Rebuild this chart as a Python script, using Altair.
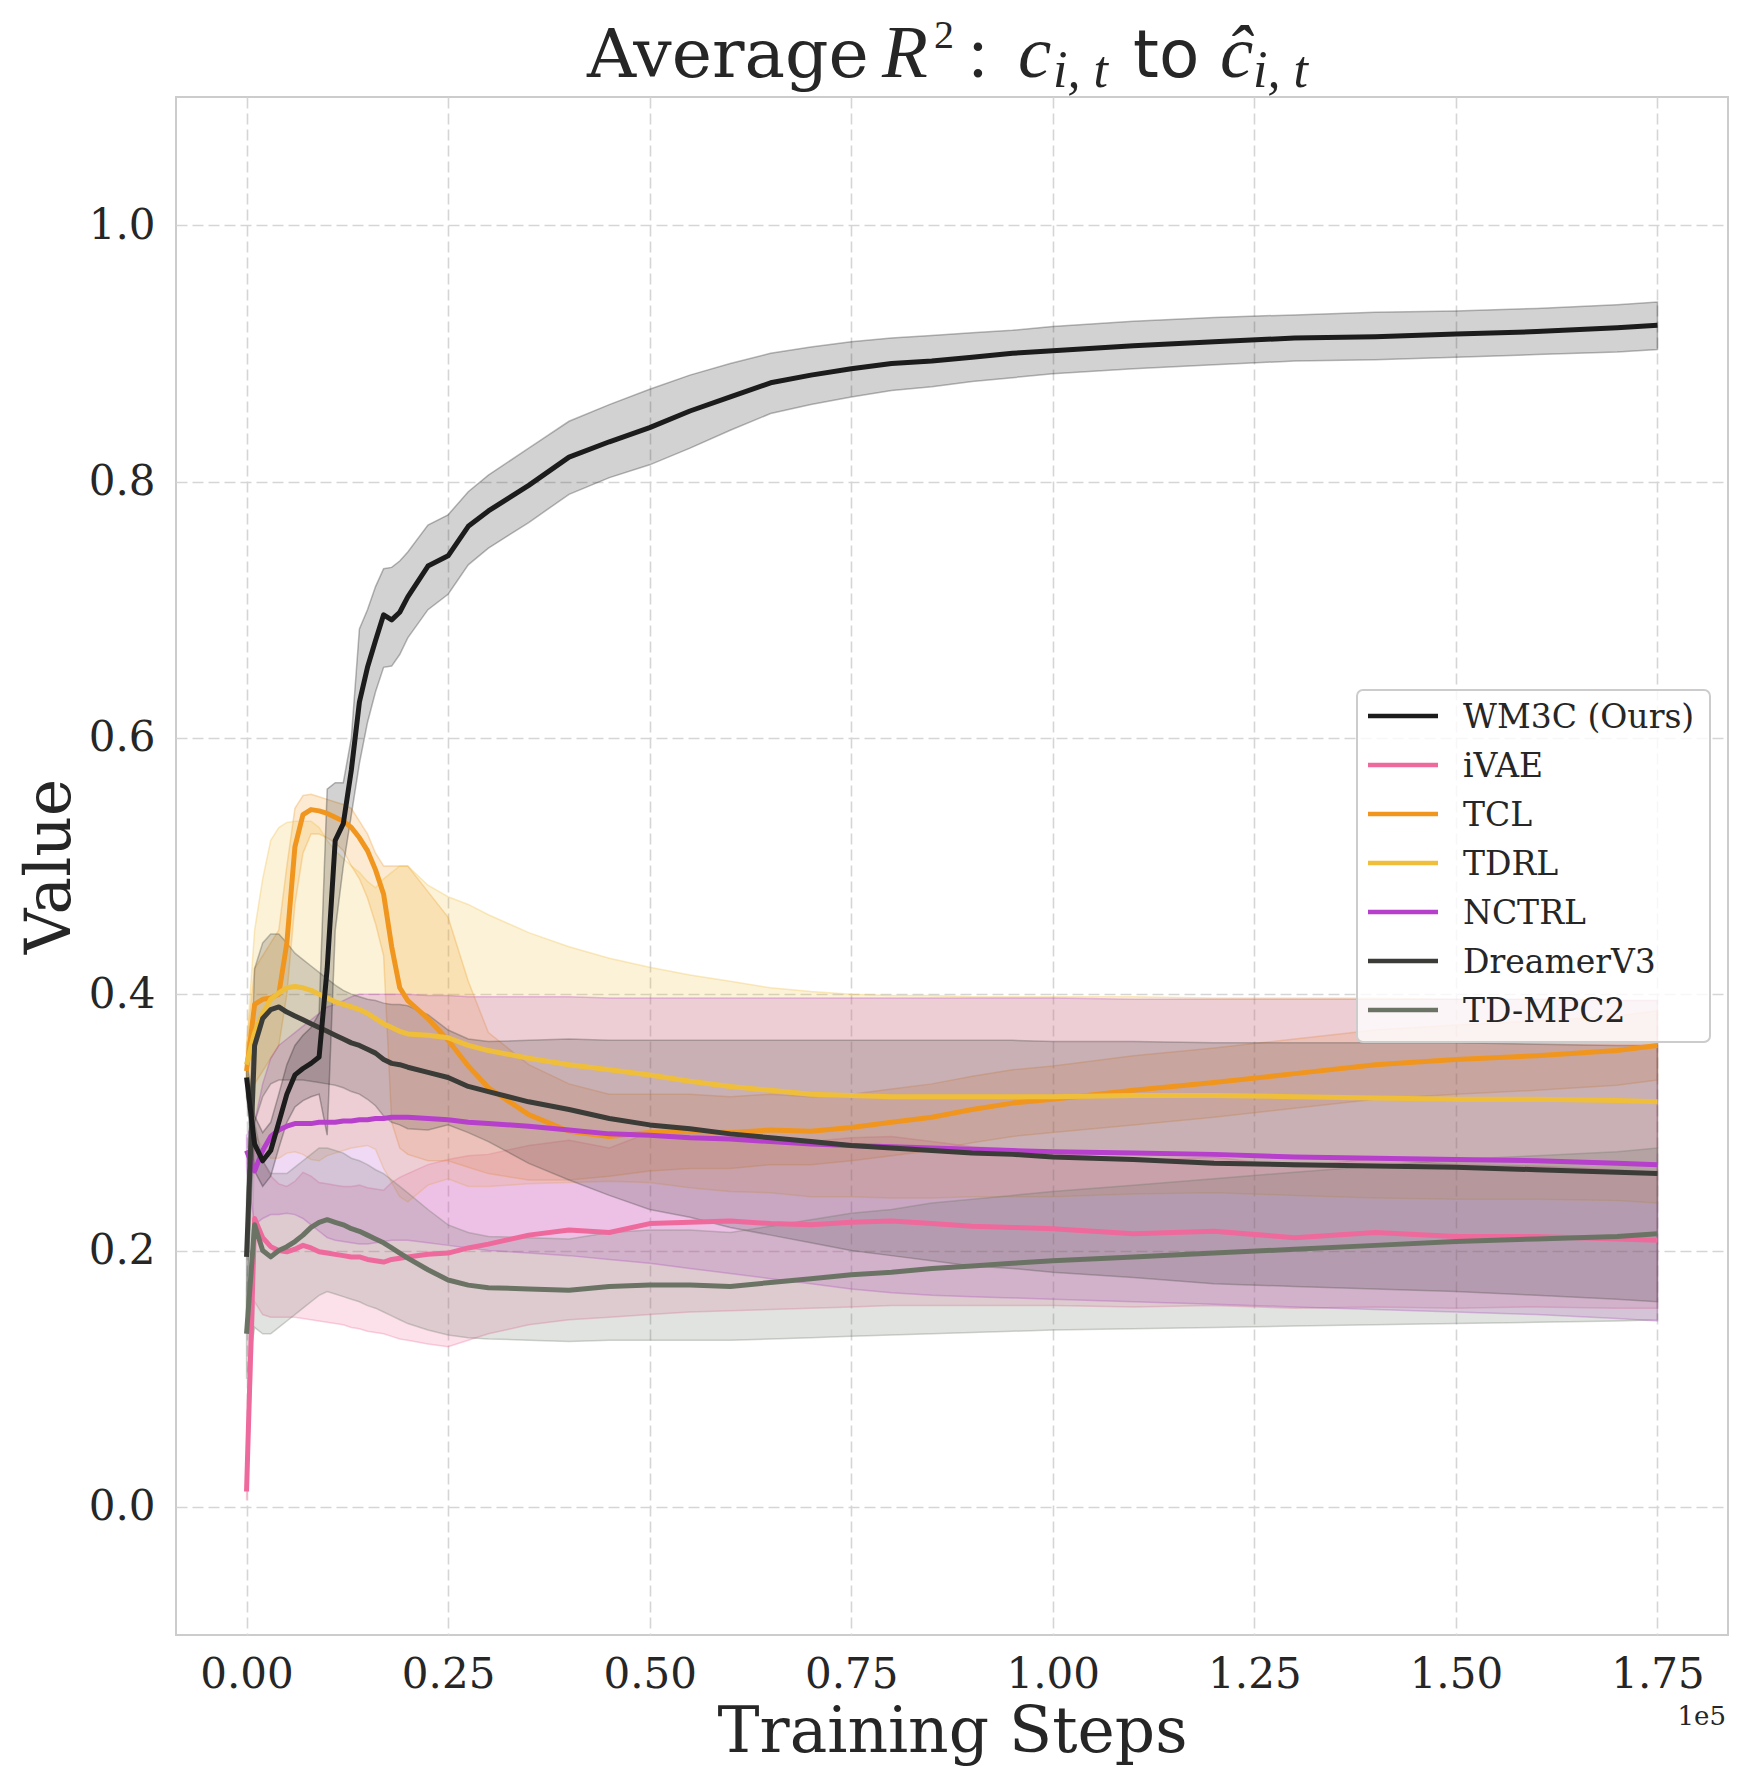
import altair as alt
import pandas as pd

STEPS = [0, 1000, 2000, 3000, 4000, 5000, 6000, 7000, 8000, 9000, 10000, 11000, 12000, 13000,
         14000, 15000, 16000, 17000, 18000, 19000, 20000, 22500, 25000, 27500, 30000, 35000,
         40000, 45000, 50000, 55000, 60000, 65000, 70000, 75000, 80000, 85000, 90000, 95000,
         100000, 110000, 120000, 130000, 140000, 150000, 160000, 170000, 175000]

SERIES = ["WM3C (Ours)", "iVAE", "TCL", "TDRL", "NCTRL", "DreamerV3", "TD-MPC2"]
COLORS = ["#1c1c1c", "#ee6a9c", "#f0961f", "#efbe3a", "#b63fcc", "#3b3b37", "#6b7464"]
DRAW_ORDER = ["iVAE", "TCL", "TDRL", "NCTRL", "DreamerV3", "TD-MPC2", "WM3C (Ours)"]

WM3C_MEAN = [0.335, 0.283, 0.270, 0.278, 0.300, 0.322, 0.337, 0.342, 0.346, 0.351, 0.420, 0.520, 0.533, 0.575,
             0.628, 0.655, 0.676, 0.696, 0.692, 0.698, 0.710, 0.734, 0.742, 0.765, 0.777, 0.797, 0.819, 0.831,
             0.842, 0.855, 0.866, 0.877, 0.883, 0.888, 0.892, 0.894, 0.897, 0.900, 0.902, 0.906, 0.909, 0.912,
             0.913, 0.915, 0.917, 0.920, 0.922]
WM3C_LO = [0.320, 0.262, 0.250, 0.258, 0.280, 0.300, 0.312, 0.317, 0.320, 0.322, 0.290, 0.450, 0.500, 0.540,
           0.580, 0.612, 0.636, 0.655, 0.656, 0.665, 0.678, 0.700, 0.712, 0.735, 0.748, 0.768, 0.790, 0.803,
           0.813, 0.826, 0.840, 0.853, 0.860, 0.866, 0.871, 0.874, 0.878, 0.881, 0.884, 0.888, 0.891, 0.894,
           0.895, 0.897, 0.899, 0.901, 0.903]
WM3C_HI = [0.350, 0.305, 0.292, 0.300, 0.322, 0.345, 0.360, 0.368, 0.374, 0.385, 0.560, 0.565, 0.565, 0.600,
           0.685, 0.700, 0.718, 0.732, 0.733, 0.738, 0.745, 0.766, 0.774, 0.792, 0.805, 0.826, 0.847, 0.860,
           0.872, 0.883, 0.892, 0.900, 0.905, 0.909, 0.912, 0.914, 0.916, 0.918, 0.921, 0.925, 0.928, 0.930,
           0.932, 0.933, 0.935, 0.938, 0.940]

IVAE_MEAN = [0.012, 0.225, 0.210, 0.203, 0.200, 0.199, 0.201, 0.204, 0.202, 0.199, 0.198, 0.197, 0.196, 0.195,
             0.195, 0.193, 0.192, 0.191, 0.193, 0.194, 0.195, 0.197, 0.198, 0.202, 0.205, 0.212, 0.216, 0.214,
             0.221, 0.222, 0.223, 0.221, 0.220, 0.222, 0.223, 0.221, 0.219, 0.218, 0.217, 0.213, 0.215, 0.210,
             0.214, 0.211, 0.211, 0.209, 0.208]
IVAE_LO = [0.005, 0.160, 0.150, 0.148, 0.148, 0.148, 0.148, 0.147, 0.146, 0.145, 0.144, 0.143, 0.142, 0.140,
           0.139, 0.137, 0.136, 0.135, 0.133, 0.131, 0.130, 0.127, 0.125, 0.130, 0.135, 0.142, 0.146, 0.148,
           0.150, 0.152, 0.153, 0.154, 0.155, 0.156, 0.157, 0.157, 0.157, 0.157, 0.157, 0.156, 0.157, 0.155,
           0.156, 0.155, 0.156, 0.155, 0.155]
IVAE_HI = [0.020, 0.290, 0.270, 0.258, 0.252, 0.250, 0.254, 0.261, 0.258, 0.253, 0.252, 0.251, 0.250, 0.250,
           0.251, 0.249, 0.248, 0.247, 0.253, 0.257, 0.260, 0.267, 0.271, 0.274, 0.275, 0.282, 0.286, 0.280,
           0.292, 0.292, 0.293, 0.288, 0.285, 0.288, 0.289, 0.285, 0.281, 0.279, 0.277, 0.270, 0.273, 0.265,
           0.272, 0.267, 0.266, 0.263, 0.261]

TCL_MEAN = [0.340, 0.392, 0.396, 0.397, 0.400, 0.440, 0.515, 0.540, 0.544, 0.543, 0.541, 0.538, 0.535, 0.530,
            0.522, 0.512, 0.497, 0.478, 0.437, 0.405, 0.395, 0.381, 0.364, 0.344, 0.327, 0.306, 0.293, 0.289,
            0.292, 0.293, 0.292, 0.294, 0.293, 0.296, 0.300, 0.304, 0.310, 0.315, 0.318, 0.325, 0.331, 0.338,
            0.345, 0.349, 0.352, 0.356, 0.360]
TCL_LO = [0.320, 0.330, 0.340, 0.350, 0.360, 0.400, 0.470, 0.510, 0.525, 0.525, 0.522, 0.518, 0.512, 0.500,
          0.490, 0.475, 0.455, 0.430, 0.300, 0.280, 0.275, 0.270, 0.270, 0.265, 0.260, 0.255, 0.255, 0.258,
          0.262, 0.264, 0.264, 0.267, 0.267, 0.270, 0.274, 0.278, 0.284, 0.289, 0.292, 0.298, 0.304, 0.311,
          0.318, 0.322, 0.325, 0.329, 0.333]
TCL_HI = [0.360, 0.420, 0.430, 0.440, 0.450, 0.500, 0.545, 0.555, 0.556, 0.554, 0.552, 0.550, 0.548, 0.545,
          0.535, 0.525, 0.510, 0.500, 0.500, 0.500, 0.500, 0.480, 0.460, 0.410, 0.370, 0.345, 0.330, 0.322,
          0.322, 0.322, 0.320, 0.322, 0.320, 0.322, 0.326, 0.330, 0.336, 0.341, 0.344, 0.352, 0.358, 0.365,
          0.372, 0.376, 0.379, 0.383, 0.387]

TDRL_MEAN = [0.345, 0.370, 0.385, 0.396, 0.401, 0.405, 0.406, 0.405, 0.403, 0.400, 0.397, 0.394, 0.392, 0.390,
             0.388, 0.385, 0.381, 0.377, 0.374, 0.371, 0.369, 0.368, 0.366, 0.360, 0.356, 0.350, 0.345, 0.341,
             0.337, 0.332, 0.328, 0.325, 0.322, 0.321, 0.320, 0.320, 0.320, 0.320, 0.320, 0.321, 0.321, 0.320,
             0.319, 0.318, 0.318, 0.317, 0.316]
TDRL_LO = [0.330, 0.290, 0.280, 0.272, 0.272, 0.276, 0.277, 0.275, 0.271, 0.270, 0.274, 0.276, 0.278, 0.280,
           0.281, 0.282, 0.279, 0.264, 0.253, 0.242, 0.238, 0.251, 0.256, 0.250, 0.250, 0.252, 0.253, 0.254,
           0.253, 0.249, 0.246, 0.245, 0.242, 0.242, 0.241, 0.241, 0.242, 0.242, 0.242, 0.244, 0.245, 0.243,
           0.241, 0.240, 0.240, 0.239, 0.237]
TDRL_HI = [0.360, 0.450, 0.490, 0.520, 0.530, 0.534, 0.535, 0.535, 0.535, 0.530, 0.520, 0.512, 0.506, 0.500,
           0.495, 0.488, 0.483, 0.490, 0.495, 0.500, 0.500, 0.485, 0.476, 0.470, 0.462, 0.448, 0.437, 0.428,
           0.421, 0.415, 0.410, 0.405, 0.402, 0.400, 0.399, 0.399, 0.398, 0.398, 0.398, 0.398, 0.397, 0.397,
           0.397, 0.396, 0.396, 0.395, 0.395]

NCTRL_MEAN = [0.278, 0.262, 0.278, 0.289, 0.294, 0.297, 0.299, 0.299, 0.299, 0.300, 0.300, 0.300, 0.301, 0.301,
              0.302, 0.302, 0.303, 0.303, 0.304, 0.304, 0.304, 0.303, 0.302, 0.300, 0.299, 0.297, 0.294, 0.291,
              0.290, 0.288, 0.287, 0.285, 0.283, 0.282, 0.281, 0.280, 0.279, 0.278, 0.277, 0.276, 0.275, 0.273,
              0.272, 0.271, 0.270, 0.268, 0.267]
NCTRL_LO = [0.265, 0.220, 0.225, 0.228, 0.228, 0.229, 0.228, 0.225, 0.220, 0.215, 0.210, 0.208, 0.207, 0.206,
            0.205, 0.205, 0.206, 0.207, 0.208, 0.208, 0.208, 0.206, 0.204, 0.202, 0.200, 0.198, 0.196, 0.193,
            0.190, 0.186, 0.182, 0.178, 0.174, 0.170, 0.167, 0.165, 0.164, 0.163, 0.162, 0.160, 0.158, 0.156,
            0.154, 0.152, 0.150, 0.147, 0.145]
NCTRL_HI = [0.290, 0.300, 0.330, 0.350, 0.360, 0.365, 0.370, 0.375, 0.380, 0.385, 0.390, 0.392, 0.395, 0.398,
            0.400, 0.400, 0.400, 0.400, 0.400, 0.400, 0.400, 0.399, 0.399, 0.398, 0.398, 0.398, 0.398, 0.397,
            0.397, 0.397, 0.397, 0.397, 0.397, 0.397, 0.397, 0.397, 0.397, 0.397, 0.397, 0.396, 0.396, 0.396,
            0.396, 0.396, 0.396, 0.395, 0.395]

DV3_MEAN = [0.195, 0.360, 0.381, 0.388, 0.390, 0.386, 0.383, 0.380, 0.377, 0.374, 0.371, 0.368, 0.365, 0.362,
            0.360, 0.357, 0.354, 0.349, 0.346, 0.345, 0.343, 0.339, 0.335, 0.328, 0.324, 0.316, 0.310, 0.303,
            0.298, 0.295, 0.291, 0.288, 0.285, 0.282, 0.280, 0.278, 0.276, 0.275, 0.273, 0.271, 0.268, 0.267,
            0.266, 0.265, 0.263, 0.261, 0.260]
DV3_LO = [0.150, 0.300, 0.320, 0.330, 0.333, 0.333, 0.333, 0.333, 0.332, 0.331, 0.330, 0.329, 0.327, 0.324,
          0.322, 0.318, 0.313, 0.305, 0.300, 0.298, 0.295, 0.294, 0.298, 0.292, 0.285, 0.268, 0.255, 0.243,
          0.232, 0.226, 0.218, 0.212, 0.206, 0.200, 0.196, 0.192, 0.188, 0.186, 0.183, 0.179, 0.174, 0.172,
          0.170, 0.168, 0.165, 0.162, 0.160]
DV3_HI = [0.240, 0.420, 0.440, 0.447, 0.447, 0.440, 0.432, 0.427, 0.422, 0.417, 0.412, 0.407, 0.403, 0.400,
          0.398, 0.396, 0.395, 0.393, 0.392, 0.392, 0.391, 0.384, 0.372, 0.365, 0.363, 0.364, 0.365, 0.364,
          0.364, 0.364, 0.364, 0.364, 0.364, 0.364, 0.364, 0.364, 0.364, 0.364, 0.363, 0.363, 0.362, 0.362,
          0.362, 0.362, 0.361, 0.360, 0.360]

TDMPC2_MEAN = [0.135, 0.220, 0.200, 0.195, 0.200, 0.203, 0.207, 0.212, 0.218, 0.222, 0.224, 0.222, 0.220, 0.217,
               0.215, 0.212, 0.209, 0.206, 0.202, 0.198, 0.194, 0.185, 0.177, 0.173, 0.171, 0.170, 0.169, 0.172,
               0.173, 0.173, 0.172, 0.175, 0.178, 0.181, 0.183, 0.186, 0.188, 0.190, 0.192, 0.195, 0.198, 0.201,
               0.204, 0.207, 0.209, 0.211, 0.213]
TDMPC2_LO = [0.100, 0.140, 0.135, 0.135, 0.140, 0.145, 0.150, 0.155, 0.160, 0.165, 0.168, 0.166, 0.164, 0.162,
             0.160, 0.157, 0.155, 0.152, 0.149, 0.146, 0.143, 0.138, 0.134, 0.132, 0.131, 0.130, 0.129, 0.130,
             0.130, 0.130, 0.130, 0.131, 0.132, 0.133, 0.134, 0.135, 0.136, 0.137, 0.138, 0.139, 0.140, 0.141,
             0.142, 0.143, 0.144, 0.145, 0.146]
TDMPC2_HI = [0.170, 0.300, 0.270, 0.260, 0.260, 0.260, 0.265, 0.270, 0.275, 0.280, 0.280, 0.278, 0.276, 0.272,
             0.270, 0.267, 0.263, 0.260, 0.255, 0.250, 0.245, 0.232, 0.220, 0.214, 0.211, 0.210, 0.209, 0.214,
             0.216, 0.216, 0.214, 0.219, 0.224, 0.229, 0.232, 0.237, 0.240, 0.243, 0.246, 0.251, 0.256, 0.261,
             0.266, 0.271, 0.274, 0.277, 0.280]

X_TICKS = [0, 25000, 50000, 75000, 100000, 125000, 150000, 175000]
Y_TICKS = [0.0, 0.2, 0.4, 0.6, 0.8, 1.0]

TABLE = {
    "WM3C (Ours)": (WM3C_MEAN, WM3C_LO, WM3C_HI),
    "iVAE": (IVAE_MEAN, IVAE_LO, IVAE_HI),
    "TCL": (TCL_MEAN, TCL_LO, TCL_HI),
    "TDRL": (TDRL_MEAN, TDRL_LO, TDRL_HI),
    "NCTRL": (NCTRL_MEAN, NCTRL_LO, NCTRL_HI),
    "DreamerV3": (DV3_MEAN, DV3_LO, DV3_HI),
    "TD-MPC2": (TDMPC2_MEAN, TDMPC2_LO, TDMPC2_HI),
}

rows = []
for name in DRAW_ORDER:
    m, lo, hi = TABLE[name]
    for s, a, b, c in zip(STEPS, m, lo, hi):
        rows.append({"step": s, "series": name, "mean": a, "lo": b, "hi": c})
df = pd.DataFrame(rows)

W, H = 1552, 1538
TXT = "#262626"
SERIF = "DejaVu Serif"
MATH = "Liberation Serif"

xscale = alt.Scale(domain=[-8750, 183750], nice=False, zero=False)
yscale = alt.Scale(domain=[-0.1, 1.1], nice=False, zero=False)
x_axis = alt.Axis(values=X_TICKS, labelExpr="format(datum.value / 100000, '.2f')",
                  title="Training Steps", labelPadding=19, titlePadding=6,
                  labelFlush=False, labelOverlap=False)
y_axis = alt.Axis(values=Y_TICKS, format=".1f", title="Value", labelPadding=21,
                  titlePadding=6, labelFlush=False, labelOverlap=False)

X = alt.X("step:Q", scale=xscale, axis=x_axis)
base = alt.Chart(df)

bands = base.mark_area(fillOpacity=0.2, strokeOpacity=0.3, strokeWidth=1.5).encode(
    x=X,
    y=alt.Y("lo:Q", scale=yscale, axis=y_axis, stack=None),
    y2="hi:Q",
    fill=alt.Fill("series:N", scale=alt.Scale(domain=SERIES, range=COLORS), legend=None),
    stroke=alt.Stroke("series:N", scale=alt.Scale(domain=SERIES, range=COLORS), legend=None),
)

lines = base.mark_line(strokeWidth=5, strokeJoin="round").encode(
    x=X,
    y=alt.Y("mean:Q", scale=yscale, axis=y_axis),
    color=alt.Color("series:N", scale=alt.Scale(domain=SERIES, range=COLORS), legend=None),
)

ONE = pd.DataFrame({"k": [0]})


def txt(s, x, y, font, size, style="normal", align="left", baseline="alphabetic"):
    return alt.Chart(ONE).mark_text(
        text=s, font=font, fontSize=size, fontStyle=style, align=align,
        baseline=baseline, color=TXT,
    ).encode(x=alt.value(x), y=alt.value(y))


texts = [
    txt("Average", 411, -20, SERIF, 68),
    txt("R", 706, -20, MATH, 75, "italic"),
    txt("2", 758, -49, MATH, 40),
    txt(":", 792, -20, MATH, 72),
    txt("c", 842, -20, MATH, 75, "italic"),
    txt("i, t", 877, -10, MATH, 52, "italic"),
    txt("to", 957, -20, "DejaVu Sans", 66),
    txt("ĉ", 1044, -20, MATH, 75, "italic"),
    txt("i, t", 1077, -10, MATH, 52, "italic"),
    txt("1e5", 1550, 1628, SERIF, 26, align="right"),
]

# legend box (drawn as guide decoration)
LEG_X, LEG_Y, LEG_W, LEG_H = 1181, 593, 353, 352
ROW0, ROW_STEP = 619, 49
legend_layers = [
    alt.Chart(ONE).mark_rect(fill="white", fillOpacity=0.8, stroke="#cccccc", strokeWidth=2,
                             cornerRadius=6).encode(
        x=alt.value(LEG_X), x2=alt.value(LEG_X + LEG_W),
        y=alt.value(LEG_Y), y2=alt.value(LEG_Y + LEG_H))
]
for i, (name, col) in enumerate(zip(SERIES, COLORS)):
    yy = ROW0 + ROW_STEP * i
    legend_layers.append(
        alt.Chart(ONE).mark_rule(color=col, strokeWidth=4.5).encode(
            x=alt.value(LEG_X + 11), x2=alt.value(LEG_X + 81), y=alt.value(yy))
    )
    legend_layers.append(txt(name, LEG_X + 106, yy + 12, SERIF, 33))

chart = alt.layer(bands, lines, *texts, *legend_layers).properties(
    width=W, height=H,
    autosize=alt.AutoSizeParams(type="none"),
    padding={"left": 168, "top": 89, "right": 4, "bottom": 138},
    background="white",
).configure_view(
    stroke="#cccccc", strokeWidth=2
).configure_axis(
    grid=True, gridColor="#d5d5d5", gridDash=[11, 5], gridWidth=1.6,
    domain=False, ticks=False,
    labelFont=SERIF, labelFontSize=42, labelColor=TXT,
    titleFont=SERIF, titleFontSize=63, titleFontWeight="normal", titleColor=TXT,
)

chart.save("out.html", embed_options={"renderer": "svg", "actions": False})
